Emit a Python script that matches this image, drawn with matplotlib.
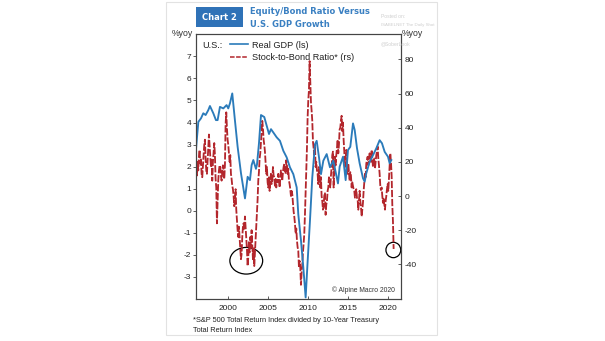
import matplotlib
matplotlib.use("Agg")
import matplotlib.pyplot as plt
from matplotlib import font_manager
from matplotlib.patches import Ellipse, Rectangle
from matplotlib.lines import Line2D
import numpy as np
import pandas as pd

# ---------------- data ----------------
gdp_dates = [1995.85, 1996.26, 1996.59, 1996.88, 1997.17, 1997.50, 1997.71, 1998.13, 1998.46, 1998.67,
             1998.96, 1999.38, 1999.79, 2000.00, 2000.21, 2000.50, 2000.83, 2001.17, 2001.59, 2002.09,
             2002.42, 2002.71, 2002.92, 2003.13, 2003.46, 2003.59, 2003.84, 2004.09, 2004.50, 2005.09,
             2005.34, 2005.63, 2006.05, 2006.46, 2006.88, 2007.30, 2007.71, 2008.13, 2008.55, 2008.75,
             2009.09, 2009.38, 2009.67, 2009.88, 2010.21, 2010.50, 2010.84, 2011.05, 2011.34, 2011.59,
             2011.88, 2012.30, 2012.71, 2013.13, 2013.71, 2013.92, 2014.34, 2014.67, 2014.96, 2015.25,
             2015.59, 2015.80, 2016.09, 2016.42, 2016.84, 2017.05, 2017.25, 2017.67, 2018.09, 2018.50,
             2018.92, 2019.21, 2019.55, 2019.96, 2020.17, 2020.38]
real_gdp_yoy = [2.30, 4.03, 4.19, 4.42, 4.34, 4.56, 4.75, 4.42, 4.11, 4.11,
                4.71, 4.64, 4.79, 4.64, 4.87, 5.32, 4.11, 2.90, 1.70, 0.56,
                1.54, 1.39, 2.07, 2.30, 1.90, 2.10, 3.07, 4.34, 4.25, 3.48,
                3.70, 3.55, 3.33, 3.17, 2.72, 2.42, 1.97, 1.66, 1.06, -0.15,
                -1.36, -2.57, -3.93, -2.55, -0.45, 1.51, 3.02, 3.17, 2.42, 1.66,
                2.27, 2.57, 1.97, 2.27, 1.24, 2.00, 2.45, 1.39, 2.75, 2.90,
                3.96, 3.66, 2.83, 2.15, 1.47, 1.32, 1.70, 2.22, 2.52, 2.83,
                3.20, 3.06, 2.67, 2.45, 2.15, 2.30]

# monthly, starting January 1996
stock_bond_start = "1996-01"
stock_bond_yoy = [
    18, 12, 20, 15, 23, 27, 19, 22, 13, 11, 18, 24,          # 1996
    30, 33, 22, 15, 13, 20, 28, 36, 30, 24, 17, 22,          # 1997
    9, 20, 26, 31, 24, 10, 5, -16, -4, 9, 15, 18,            # 1998
    17, 12, 9, 14, 18, 15, 10, 18, 42, 49, 40, 33,           # 1999
    30, 25, 20, 24, 13, 10, 6, 4, 0, -6, -2, 4,              # 2000
    -8, -14, -20, -24, -18, -24, -30, -37, -34, -24, -18, -16,  # 2001
    -20, -12, -18, -24, -31, -41, -36, -27, -33, -24, -30, -20,  # 2002
    -28, -37, -30, -41, -33, -24, -18, -10, -2, 9, 14, 22,   # 2003
    25, 31, 36, 44, 40, 33, 30, 26, 20, 13, 17, 8,           # 2004
    5, 11, 3, 8, 13, 7, 9, 17, 12, 11, 6, 10,                # 2005
    5, 9, 8, 13, 9, 5, 10, 15, 12, 9, 14, 17,                # 2006
    19, 15, 13, 21, 18, 13, 16, 9, 7, 4, 0, 3,               # 2007
    1, -4, -9, -12, -16, -22, -19, -26, -30, -32, -42, -38,  # 2008
    -42, -52, -45, -40, -33, -28, -22, -11, 3, 15, 28, 46,   # 2009
    56, 62, 79, 66, 55, 50, 44, 32, 28, 24, 30, 17,          # 2010
    20, 15, 13, 7, 17, 9, 5, 11, 0, -3, -8, -6,              # 2011
    0, 2, -11, -5, -3, 3, 5, 11, 8, 5, 12, 17,               # 2012
    24, 26, 5, 15, 23, 18, 24, 28, 33, 25, 30, 39,           # 2013
    40, 44, 47, 38, 43, 33, 26, 17, 22, 27, 18, 13,          # 2014
    19, 14, 9, 14, 12, 5, 8, 6, 4, 3, -1, 2,                 # 2015
    4, -1, -2, -8, -3, 3, -3, -6, -12, -8, -4, 3,            # 2016
    8, 13, 11, 19, 21, 23, 18, 22, 25, 22, 20, 27,           # 2017
    22, 17, 20, 22, 16, 20, 24, 26, 29, 22, 18, 13,          # 2018
    6, 3.5, 5, 0, -4, -1, -5, -8, -3, 0, 4, 7,               # 2019
    3, 10, 17, 25, 20, 12, -5, -15, -31,                     # 2020
]

x_ticks = [2000, 2005, 2010, 2015, 2020]
left_ticks = [-3, -2, -1, 0, 1, 2, 3, 4, 5, 6, 7]
right_ticks = [-40, -20, 0, 20, 40, 60, 80]

# circled episodes (centre year, centre value on right axis, width in years, height in rs units)
circle_2002 = (2002.25, -37.9, 4.1, 15.6)
circle_2020 = (2020.63, -31.6, 1.85, 9.0)

# ---------------- styling ----------------
plt.rcParams["font.family"] = ["Liberation Sans", "DejaVu Sans"]
plt.rcParams["axes.unicode_minus"] = False

try:
    font_manager.findfont(font_manager.FontProperties(family="Liberation Sans Narrow"),
                          fallback_to_default=False)
    title_family = ["Liberation Sans Narrow", "Liberation Sans"]
    title_size = 8.1
except Exception:
    title_family = ["DejaVu Sans"]
    title_size = 6.0

BLUE = "#2b7bba"
RED = "#b3262c"
TITLE_BLUE = "#3a80c2"
BOX_BLUE = "#2f72b7"
SPINE = "#444444"

W, H = 605, 341
fig = plt.figure(figsize=(W / 100, H / 100), dpi=100)
fig.patch.set_facecolor("white")


def fx(px):
    return px / W


def fy(py):
    return 1 - py / H


# panel frame
fig.patches.append(Rectangle((fx(166), fy(335)), fx(437) - fx(166), fy(2) - fy(335),
                             transform=fig.transFigure, fill=False, edgecolor="#e2e2e2",
                             linewidth=0.8, zorder=0))

ax = fig.add_axes([fx(195.7), fy(299), fx(400.7) - fx(195.7), fy(34.3) - fy(299)])
ax2 = ax.twinx()
ax.set_zorder(ax2.get_zorder() + 1)
ax.patch.set_visible(False)

# series
sb_index = pd.date_range(stock_bond_start, periods=len(stock_bond_yoy), freq="MS")
sb_x = sb_index.year + (sb_index.month - 1) / 12.0
ax2.plot(sb_x, stock_bond_yoy, color=RED, lw=1.3, ls=(0, (4, 1)))
ax.plot(gdp_dates, real_gdp_yoy, color=BLUE, lw=1.35)

# ellipses
for cx, cy, w, h in (circle_2002, circle_2020):
    ax2.add_patch(Ellipse((cx, cy), w, h, fill=False, edgecolor="black", lw=0.9))

# axes
ax.set_xlim(1995.93, 2021.55)
ax.set_ylim(-4, 8)
ax2.set_ylim(-60.3, 94.7)
ax.set_xticks(x_ticks)
ax.set_xticklabels([str(t) for t in x_ticks])
ax.set_yticks(left_ticks)
ax.set_yticklabels([str(t) for t in left_ticks])
ax2.set_yticks(right_ticks)
ax2.set_yticklabels([str(t) for t in right_ticks])

for a in (ax, ax2):
    for s in a.spines.values():
        s.set_color(SPINE)
        s.set_linewidth(0.8)

ax.tick_params(axis="y", direction="out", length=2.2, width=0.6, labelsize=6, pad=1,
               color=SPINE, labelcolor="#222222")
ax.tick_params(axis="x", direction="in", length=2.5, width=0.6, labelsize=6, pad=4,
               color=SPINE, labelcolor="#222222")
ax2.tick_params(axis="y", direction="in", length=2.2, width=0.6, labelsize=6, pad=3,
                color=SPINE, labelcolor="#222222")

# legend (manual, inside axes)
fig.text(fx(202.7), fy(45), "U.S.:", fontsize=6.6, va="center", ha="left", color="#222222")
fig.lines.append(Line2D([fx(230), fx(247.5)], [fy(44), fy(44)], transform=fig.transFigure,
                        color=BLUE, lw=1.2))
fig.lines.append(Line2D([fx(230), fx(247.5)], [fy(56.5), fy(56.5)], transform=fig.transFigure,
                        color=RED, lw=1.1, ls=(0, (3, 1))))
fig.text(fx(251.7), fy(45), "Real GDP (ls)", fontsize=6.6, va="center", ha="left", color="#222222")
fig.text(fx(251.7), fy(57.5), "Stock-to-Bond Ratio* (rs)", fontsize=6.6, va="center", ha="left",
         color="#222222")

# axis unit labels
fig.text(fx(193), fy(33.5), "%yoy", fontsize=6.3, ha="right", va="center", color="#333333")
fig.text(fx(402), fy(33.5), "%yoy", fontsize=6.3, ha="left", va="center", color="#333333")

# title
fig.patches.append(Rectangle((fx(196), fy(27.3)), fx(243) - fx(196), fy(7.3) - fy(27.3),
                             transform=fig.transFigure, facecolor=BOX_BLUE, edgecolor="none"))
fig.text(fx(219.5), fy(17.5), "Chart 2", fontsize=title_size, fontweight="bold", color="white",
         ha="center", va="center", family=title_family)
fig.text(fx(250), fy(11.5), "Equity/Bond Ratio Versus", fontsize=title_size, fontweight="bold",
         color=TITLE_BLUE, ha="left", va="center", family=title_family)
fig.text(fx(250), fy(24.5), "U.S. GDP Growth", fontsize=title_size, fontweight="bold",
         color=TITLE_BLUE, ha="left", va="center", family=title_family)

# watermark
fig.text(fx(381), fy(16.5), "Posted on:", fontsize=3.6, color="#cfcfcf", ha="left", va="center")
fig.text(fx(381), fy(25), "ISABELNET The Daily Shot", fontsize=3.2, color="#cfcfcf", ha="left",
         va="center")
fig.text(fx(381), fy(43.5), "@SoberLook", fontsize=3.6, color="#cfcfcf", ha="left", va="center")

# credit and footnote
fig.text(fx(395), fy(290), "\u00a9 Alpine Macro 2020", fontsize=4.9, color="#333333", ha="right",
         va="center")
fig.text(fx(192.7), fy(320.5), "*S&P 500 Total Return Index divided by 10-Year Treasury",
         fontsize=5.3, color="#222222", ha="left", va="center")
fig.text(fx(192.7), fy(330.5), "Total Return Index", fontsize=5.3, color="#222222", ha="left",
         va="center")

fig.savefig("out.png", dpi=100)
